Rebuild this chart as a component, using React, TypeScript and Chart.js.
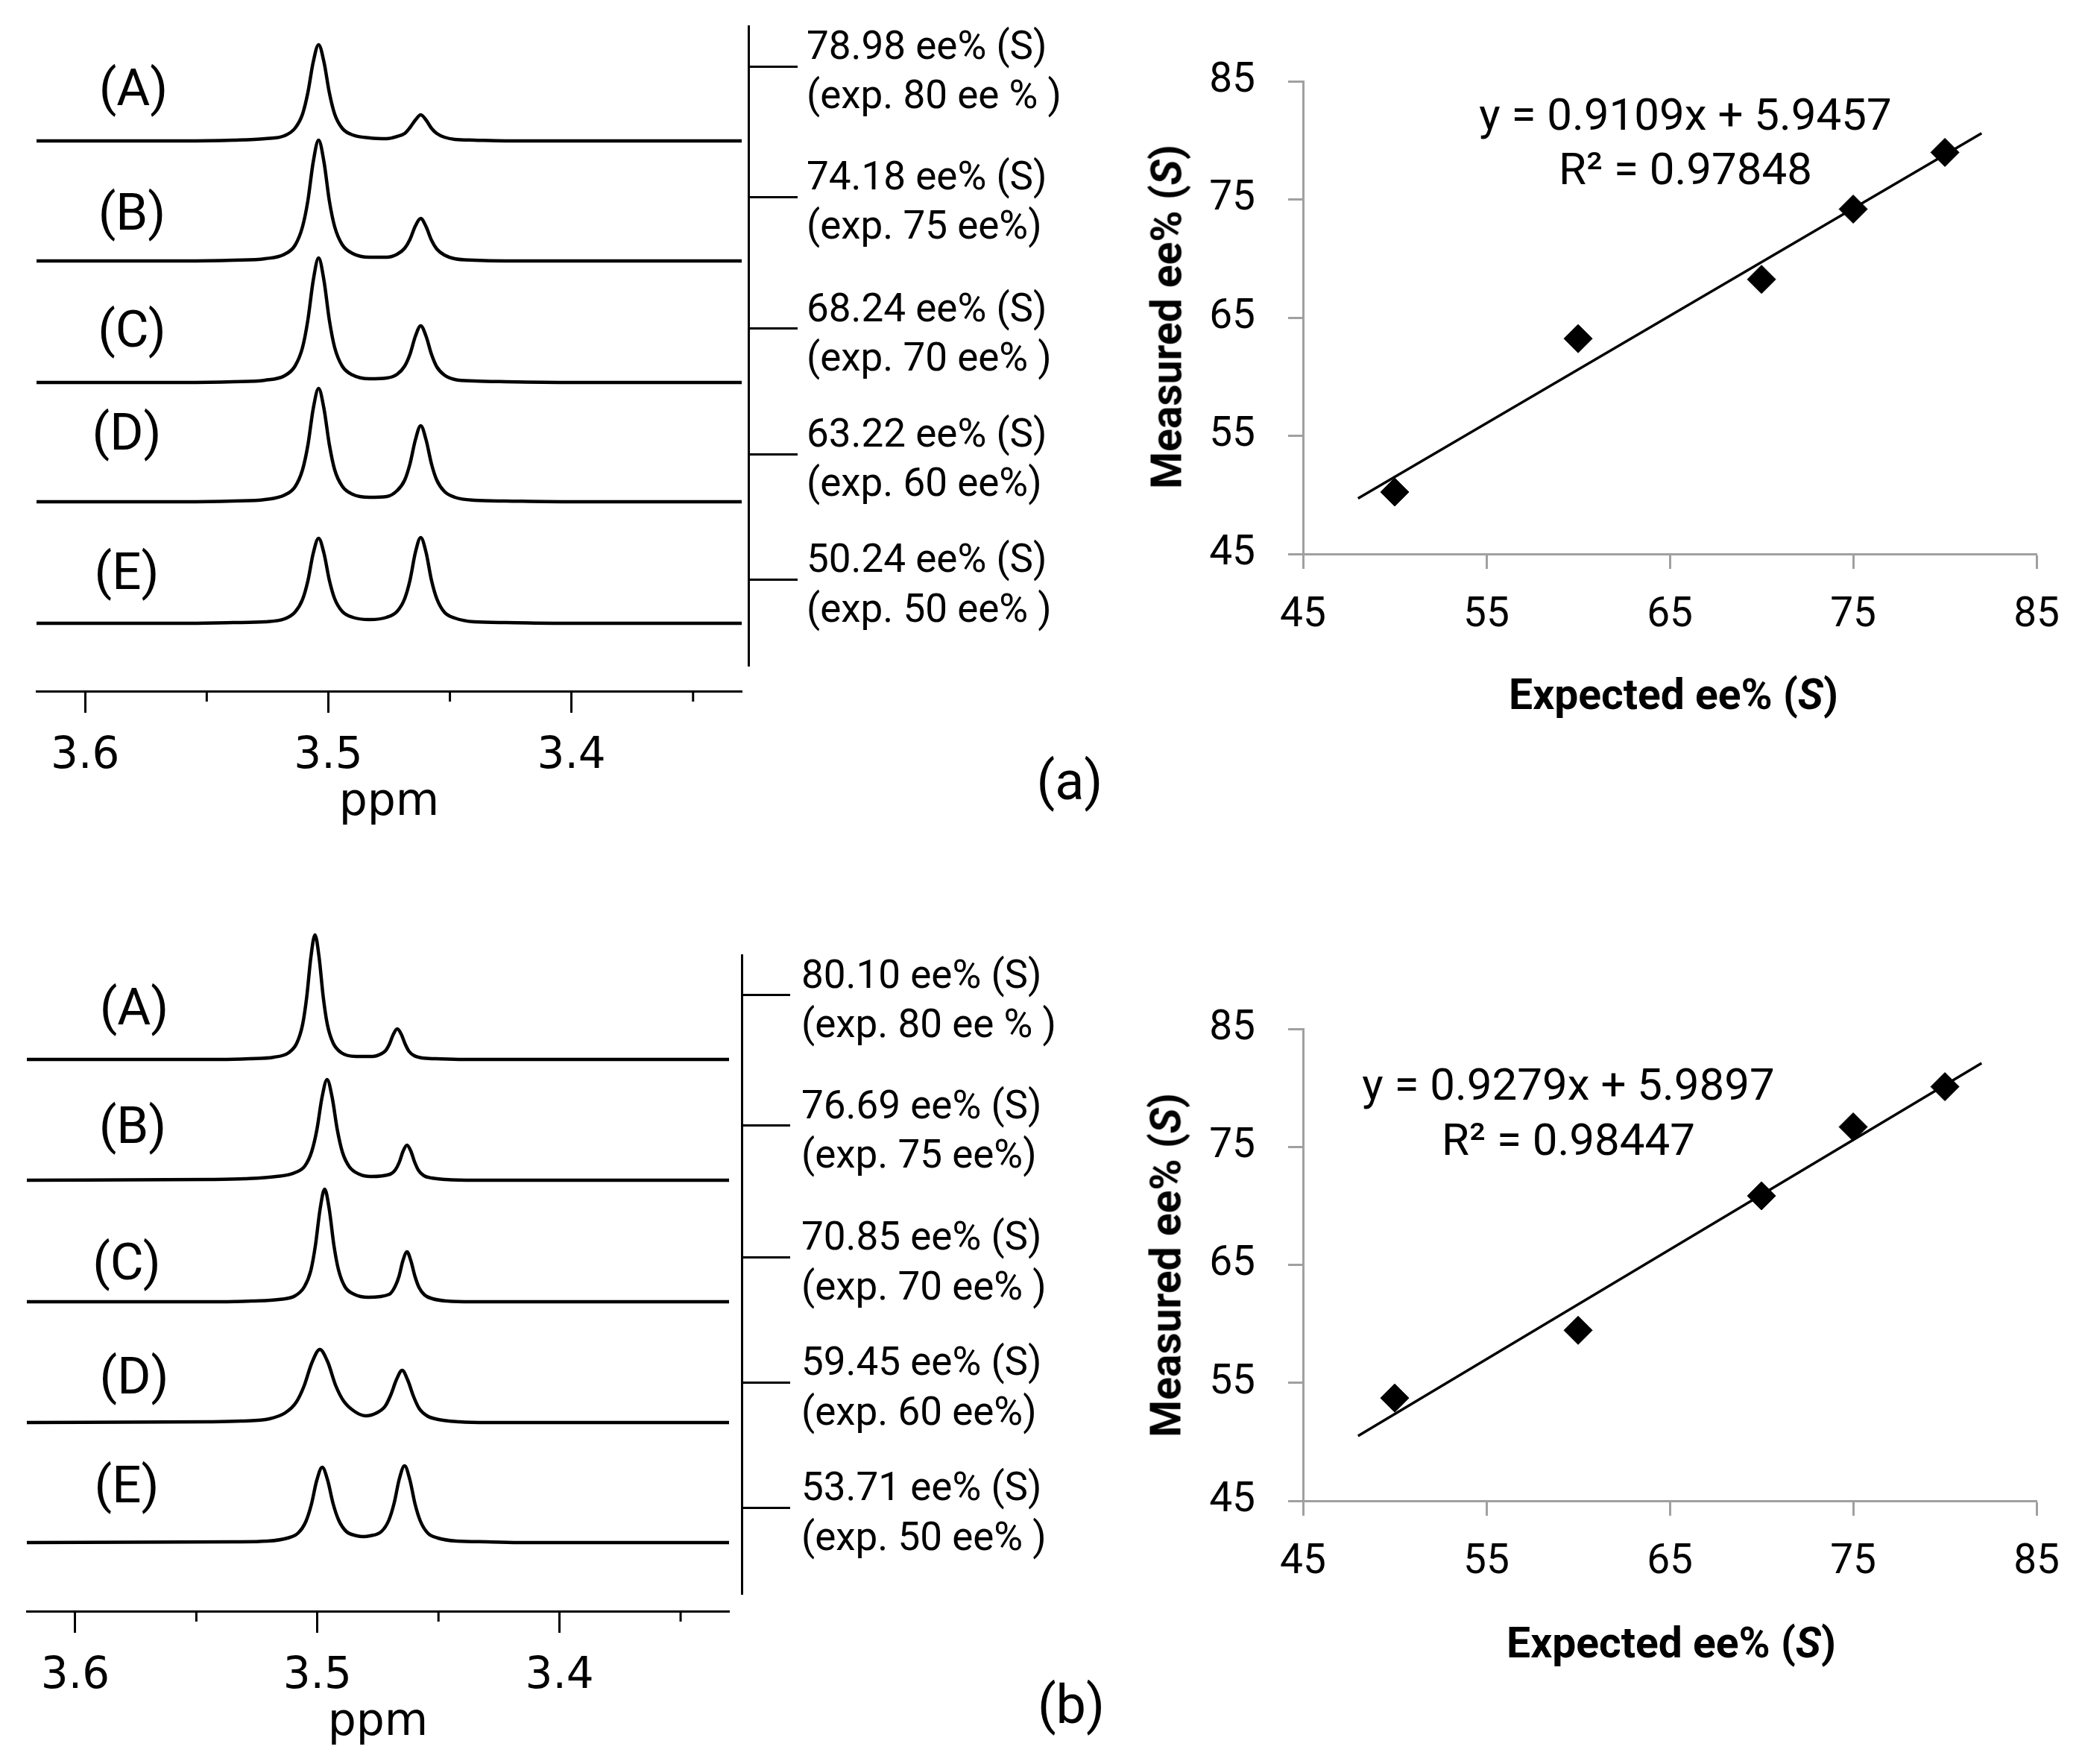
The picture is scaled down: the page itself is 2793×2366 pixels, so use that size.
import React, { useEffect, useRef } from 'react';
import { Chart, registerables } from 'chart.js';

Chart.register(...registerables);

const TEXT_FONT = 'Roboto, "Noto Sans", sans-serif';
const AXIS_FONT = '"DejaVu Sans", Verdana, sans-serif';
const GRAY = '#a0a0a0';

type Pt = [number, number];

// ---- NMR spectra, panel (a): one shared shift grid (ppm), intensities
const ppmGridA = [3.62, 3.56, 3.539, 3.526, 3.518, 3.5137, 3.5106, 3.5084, 3.5062, 3.504, 3.5018, 3.4996, 3.4974, 3.4943, 3.49, 3.483, 3.476, 3.4717, 3.4686, 3.4664, 3.4642, 3.462, 3.4598, 3.4576, 3.4554, 3.4523, 3.448, 3.44, 3.427, 3.4, 3.33];
const intA_A = [0, 0, 1, 3, 7, 17, 36, 65, 106, 129, 106, 65, 36, 17, 8, 4, 3, 6, 10, 18, 28, 35, 28, 17, 10, 5, 2, 1, 0, 0, 0];
const intA_B = [0, 0, 1, 3, 9, 21, 46, 81, 133, 162, 133, 81, 46, 22, 10, 5, 5, 9, 17, 29, 47, 57, 46, 28, 16, 8, 3, 1, 0, 0, 0];
const intA_C = [0, 0, 1, 3, 9, 22, 47, 84, 137, 167, 137, 84, 47, 22, 10, 5, 6, 11, 22, 38, 62, 76, 62, 38, 21, 10, 4, 2, 1, 0, 0];
const intA_D = [0, 0, 1, 3, 9, 20, 43, 76, 125, 152, 125, 77, 43, 21, 10, 6, 7, 15, 29, 51, 83, 102, 83, 51, 29, 14, 6, 2, 1, 0, 0];
const intA_E = [0, 0, 1, 2, 6, 15, 32, 57, 94, 114, 94, 58, 33, 16, 8, 5, 8, 16, 33, 58, 95, 115, 95, 58, 33, 15, 7, 2, 1, 0, 0];

// ---- NMR spectra, panel (b): [ppm, intensity] per trace
const specB_A: Pt[] = [[3.62, 0], [3.54, 0], [3.528, 1], [3.518, 3], [3.5119, 9], [3.5085, 22], [3.5061, 47], [3.5044, 84], [3.5027, 137], [3.501, 167], [3.4993, 137], [3.4976, 84], [3.4959, 47], [3.4935, 22], [3.4901, 9], [3.484, 4], [3.4772, 4], [3.474, 7], [3.4718, 12], [3.4702, 21], [3.4686, 34], [3.467, 41], [3.4654, 34], [3.4638, 21], [3.4622, 11], [3.46, 5], [3.4568, 2], [3.451, 1], [3.44, 0], [3.33, 0]];
const specB_B: Pt[] = [[3.62, 0], [3.545, 1], [3.53, 2], [3.517, 5], [3.5094, 10], [3.5052, 19], [3.5023, 39], [3.5002, 68], [3.4981, 111], [3.496, 135], [3.4939, 111], [3.4918, 68], [3.4897, 38], [3.4868, 18], [3.4826, 8], [3.478, 5], [3.47, 8], [3.4678, 14], [3.4662, 24], [3.4646, 39], [3.463, 47], [3.4614, 39], [3.4598, 24], [3.4582, 13], [3.456, 6], [3.4528, 3], [3.447, 1], [3.435, 0], [3.33, 0]];
const specB_C: Pt[] = [[3.62, 0], [3.54, 0], [3.527, 1], [3.516, 3], [3.5092, 8], [3.5054, 20], [3.5027, 42], [3.5008, 76], [3.4989, 124], [3.497, 151], [3.4951, 124], [3.4932, 76], [3.4913, 43], [3.4886, 20], [3.4848, 10], [3.479, 6], [3.4703, 10], [3.468, 20], [3.4663, 34], [3.4647, 55], [3.463, 67], [3.4614, 55], [3.4597, 34], [3.458, 19], [3.4557, 9], [3.4524, 4], [3.4465, 1], [3.436, 0], [3.33, 0]];
const specB_D: Pt[] = [[3.62, 0], [3.545, 1], [3.5315, 2], [3.5198, 5], [3.5133, 13], [3.5088, 27], [3.5055, 49], [3.5023, 80], [3.499, 98], [3.4957, 81], [3.4925, 50], [3.4892, 29], [3.4847, 15], [3.48, 9], [3.4755, 13], [3.472, 22], [3.4697, 37], [3.4673, 58], [3.465, 70], [3.4627, 57], [3.4603, 35], [3.458, 19], [3.4547, 9], [3.45, 4], [3.4415, 1], [3.43, 0], [3.33, 0]];
const specB_E: Pt[] = [[3.62, 0], [3.534, 1], [3.5205, 2], [3.5124, 6], [3.5079, 13], [3.5048, 28], [3.5025, 51], [3.5003, 83], [3.498, 101], [3.4958, 84], [3.4935, 52], [3.4912, 30], [3.4881, 15], [3.4836, 9], [3.481, 8], [3.4784, 9], [3.4735, 15], [3.4705, 30], [3.4683, 53], [3.4662, 85], [3.464, 103], [3.4618, 84], [3.4597, 52], [3.4575, 29], [3.4545, 13], [3.4502, 6], [3.4425, 2], [3.43, 1], [3.415, 0], [3.33, 0]];

const ppmMajorTicks = [3.6, 3.5, 3.4];
const ppmMinorTicks = [3.55, 3.45, 3.35];

const traceNames = ['(A)', '(B)', '(C)', '(D)', '(E)'];
const measuredTextA = ['78.98 ee% (S)', '74.18 ee% (S)', '68.24 ee% (S)', '63.22 ee% (S)', '50.24 ee% (S)'];
const measuredTextB = ['80.10 ee% (S)', '76.69 ee% (S)', '70.85 ee% (S)', '59.45 ee% (S)', '53.71 ee% (S)'];
const expectedText = ['(exp. 80 ee % )', '(exp. 75 ee%)', '(exp. 70 ee% )', '(exp. 60 ee%)', '(exp. 50 ee% )'];

// ---- calibration plots
const expectedEe = [50, 60, 70, 75, 80];
const measuredEeA = [50.24, 63.22, 68.24, 74.18, 78.98];
const measuredEeB = [53.71, 59.45, 70.85, 76.69, 80.1];
const trendA: Pt[] = [[48, 49.7], [82, 80.6]];
const trendB: Pt[] = [[48, 50.5], [82, 82.1]];
const eeTicks = [45, 55, 65, 75, 85];

// where the label ticks sit, as a fraction of the plot height (layout only)
const labelTickFrac = [0.063, 0.267, 0.473, 0.669, 0.865];

const minorTicksPlugin = {
  id: 'minorTicks',
  afterDraw(chart: any, _args: any, opts: any) {
    const s = chart.scales.x;
    if (!s || !opts || !opts.values) return;
    const ctx = chart.ctx;
    ctx.save();
    ctx.strokeStyle = '#000';
    ctx.lineWidth = 3;
    opts.values.forEach((v: number) => {
      const px = s.getPixelForValue(v);
      ctx.beginPath();
      ctx.moveTo(px, s.top);
      ctx.lineTo(px, s.top + opts.length);
      ctx.stroke();
    });
    ctx.restore();
  },
};

interface SpectrumProps {
  top: number;
  width: number;
  height: number;
  traces: Pt[][];
  baselines: number[];
  area: { left: number; top: number; right: number; bottom: number };
  borderX: number;
  axisY: number;
  measured: string[];
  labelTick: number;
  labelPad: number;
}

const SpectrumPanel: React.FC<SpectrumProps> = (p) => {
  const canvasRef = useRef<HTMLCanvasElement | null>(null);

  useEffect(() => {
    const ctx = canvasRef.current?.getContext('2d');
    if (!ctx) return;
    const xAxisHeight = 200;
    const yMax = p.area.bottom - p.area.top;

    const chart = new Chart(ctx, {
      type: 'line',
      data: {
        datasets: p.traces.map((t, i) => ({
          data: t.map(([x, y]) => ({ x, y: y + p.baselines[i] })),
          xAxisID: 'x',
          yAxisID: 'y',
          borderColor: '#000',
          borderWidth: 4.5,
          pointRadius: 0,
          fill: false,
          cubicInterpolationMode: 'monotone',
          clip: false,
        })),
      },
      options: {
        animation: false,
        responsive: false,
        layout: {
          padding: { left: p.area.left, top: p.area.top, right: 0, bottom: p.height - p.axisY - xAxisHeight },
        },
        plugins: {
          legend: { display: false },
          tooltip: { enabled: false },
          minorTicks: { values: ppmMinorTicks, length: 14 },
        } as any,
        scales: {
          x: {
            type: 'linear',
            reverse: true,
            min: 3.33,
            max: 3.62,
            weight: 1,
            afterBuildTicks: (s: any) => {
              s.ticks = ppmMajorTicks.map((v) => ({ value: v }));
            },
            afterFit: (s: any) => {
              s.height = xAxisHeight;
            },
            ticks: {
              callback: (v: any) => Number(v).toFixed(1),
              color: '#000',
              font: { family: AXIS_FONT, size: 58 },
              padding: 24,
              maxRotation: 0,
              autoSkip: false,
            },
            grid: { drawOnChartArea: false, tickLength: 29, tickWidth: 3, tickColor: '#000' },
            border: { color: '#000', width: 3 },
            title: {
              display: true,
              text: 'ppm',
              color: '#000',
              font: { family: AXIS_FONT, size: 60 },
              padding: { top: 0, bottom: 14 },
            },
          },
          xgap: {
            type: 'linear',
            axis: 'x',
            position: 'bottom',
            weight: 0,
            ticks: { display: false },
            grid: { display: false },
            border: { display: false },
            afterFit: (s: any) => {
              s.height = p.axisY - p.area.bottom;
            },
          },
          y: { display: false, min: 0, max: yMax },
          ygap: {
            type: 'linear',
            axis: 'y',
            position: 'right',
            weight: 0,
            ticks: { display: false },
            grid: { display: false },
            border: { display: false },
            afterFit: (s: any) => {
              s.width = p.borderX - p.area.right;
            },
          },
          ylab: {
            type: 'linear',
            axis: 'y',
            position: 'right',
            weight: 1,
            reverse: true,
            min: 0,
            max: 1,
            afterBuildTicks: (s: any) => {
              s.ticks = labelTickFrac.map((v) => ({ value: v }));
            },
            afterFit: (s: any) => {
              s.width = p.width - p.borderX;
              // the two-line labels may stick out past the plot; do not let them push it
              s.paddingTop = 0;
              s.paddingBottom = 0;
            },
            ticks: {
              callback: (_v: any, i: number) => [p.measured[i], expectedText[i]],
              autoSkip: false,
              color: '#000',
              font: { family: TEXT_FONT, size: 53, lineHeight: 1.25 },
              padding: p.labelPad,
              labelOffset: 10,
              crossAlign: 'near',
            },
            grid: { drawOnChartArea: false, tickLength: p.labelTick, tickWidth: 3, tickColor: '#000' },
            border: { color: '#000', width: 3 },
          },
        } as any,
      },
      plugins: [minorTicksPlugin],
    });

    return () => {
      chart.destroy();
    };
  }, [p]);

  return (
    <div style={{ position: 'absolute', left: 0, top: p.top, width: p.width, height: p.height }}>
      <canvas ref={canvasRef} width={p.width} height={p.height}></canvas>
    </div>
  );
};

interface ScatterProps {
  top: number;
  measured: number[];
  trend: Pt[];
  areaTop: number;
  areaBottom: number;
}

const ScatterPanel: React.FC<ScatterProps> = (p) => {
  const canvasRef = useRef<HTMLCanvasElement | null>(null);
  const width = 1293;
  const height = 1000;

  useEffect(() => {
    const ctx = canvasRef.current?.getContext('2d');
    if (!ctx) return;
    const xAxisHeight = 150;

    const axisStyle = {
      grid: { drawOnChartArea: false, tickLength: 20, tickWidth: 3, tickColor: GRAY },
      border: { color: GRAY, width: 3 },
    };

    const chart = new Chart(ctx, {
      type: 'scatter',
      data: {
        datasets: [
          {
            type: 'line',
            data: p.trend.map(([x, y]) => ({ x, y })),
            borderColor: '#000',
            borderWidth: 3.5,
            pointRadius: 0,
            order: 2,
          } as any,
          {
            type: 'scatter',
            data: expectedEe.map((x, i) => ({ x, y: p.measured[i] })),
            pointStyle: 'rectRot',
            pointRadius: 19,
            backgroundColor: '#000',
            borderColor: '#000',
            borderWidth: 1,
            order: 1,
          },
        ],
      },
      options: {
        animation: false,
        responsive: false,
        layout: {
          padding: { left: 0, top: p.areaTop, right: 51, bottom: height - p.areaBottom - xAxisHeight },
        },
        plugins: { legend: { display: false }, tooltip: { enabled: false } },
        scales: {
          x: {
            type: 'linear',
            min: 45,
            max: 85,
            afterBuildTicks: (s: any) => {
              s.ticks = eeTicks.map((v) => ({ value: v }));
            },
            afterFit: (s: any) => {
              s.height = xAxisHeight;
            },
            ticks: { color: '#000', font: { family: TEXT_FONT, size: 55 }, padding: 30, maxRotation: 0 },
            ...axisStyle,
          },
          y: {
            type: 'linear',
            min: 45,
            max: 85,
            afterBuildTicks: (s: any) => {
              s.ticks = eeTicks.map((v) => ({ value: v }));
            },
            afterFit: (s: any) => {
              s.width = 248;
            },
            ticks: { color: '#000', font: { family: TEXT_FONT, size: 55 }, padding: 44 },
            ...axisStyle,
          },
        } as any,
      },
    });

    return () => {
      chart.destroy();
    };
  }, [p]);

  return (
    <div style={{ position: 'absolute', left: 1500, top: p.top, width, height }}>
      <canvas ref={canvasRef} width={width} height={height}></canvas>
    </div>
  );
};

const Label: React.FC<{ x: number; y: number; size: number; bold?: boolean; rotate?: boolean; family?: string; children: React.ReactNode }> = ({
  x,
  y,
  size,
  bold,
  rotate,
  family,
  children,
}) => (
  <div
    style={{
      position: 'absolute',
      left: x,
      top: y,
      transform: `translate(-50%, -50%)${rotate ? ' rotate(-90deg)' : ''}`,
      fontFamily: family || TEXT_FONT,
      fontSize: size,
      fontWeight: bold ? 700 : 400,
      lineHeight: 1,
      whiteSpace: 'nowrap',
      color: '#000',
    }}
  >
    {children}
  </div>
);

const tracesA: Pt[][] = [intA_A, intA_B, intA_C, intA_D, intA_E].map((ints) => ppmGridA.map((x, i) => [x, ints[i]] as Pt));
const tracesB: Pt[][] = [specB_A, specB_B, specB_C, specB_D, specB_E];

const specPropsA: SpectrumProps = {
  top: 0,
  width: 1480,
  height: 1150,
  traces: tracesA,
  baselines: [704, 543, 380, 220, 57],
  area: { left: 49, top: 35, right: 995, bottom: 893 },
  borderX: 1004,
  axisY: 927,
  measured: measuredTextA,
  labelTick: 66,
  labelPad: 12,
};

const specPropsB: SpectrumProps = {
  top: 1166,
  width: 1480,
  height: 1200,
  traces: tracesB,
  baselines: [717, 555, 392, 230, 69],
  area: { left: 36, top: 115, right: 978, bottom: 972 },
  borderX: 995,
  axisY: 995,
  measured: measuredTextB,
  labelTick: 65,
  labelPad: 15,
};

const scatterPropsA: ScatterProps = { top: 0, measured: measuredEeA, trend: trendA, areaTop: 109, areaBottom: 743 };
const scatterPropsB: ScatterProps = { top: 1166, measured: measuredEeB, trend: trendB, areaTop: 214, areaBottom: 847 };

const labelPosA: Pt[] = [[179, 117], [177, 284], [177, 441], [170, 579], [170, 766]];
const labelPosB: Pt[] = [[180, 1350], [178, 1509], [170, 1692], [180, 1845], [170, 1991]];

const App: React.FC = () => (
  <div style={{ position: 'absolute', left: 0, top: 0, width: 2793, height: 2366, background: '#fff', overflow: 'hidden' }}>
    <SpectrumPanel {...specPropsA} />
    <SpectrumPanel {...specPropsB} />
    <ScatterPanel {...scatterPropsA} />
    <ScatterPanel {...scatterPropsB} />

    {traceNames.map((t, i) => (
      <Label key={'a' + t} x={labelPosA[i][0]} y={labelPosA[i][1]} size={69}>
        {t}
      </Label>
    ))}
    {traceNames.map((t, i) => (
      <Label key={'b' + t} x={labelPosB[i][0]} y={labelPosB[i][1]} size={69}>
        {t}
      </Label>
    ))}

    <Label x={1435} y={1048} size={72}>(a)</Label>
    <Label x={1437} y={2287} size={72}>(b)</Label>

    <Label x={2261} y={154} size={60}>y = 0.9109x + 5.9457</Label>
    <Label x={2261} y={227} size={60}>R² = 0.97848</Label>
    <Label x={1565} y={425} size={57} bold rotate>
      Measured ee% (<i>S</i>)
    </Label>
    <Label x={2245} y={931} size={57} bold>
      Expected ee% (<i>S</i>)
    </Label>

    <Label x={2104} y={1455} size={60}>y = 0.9279x + 5.9897</Label>
    <Label x={2104} y={1529} size={60}>R² = 0.98447</Label>
    <Label x={1564} y={1697} size={57} bold rotate>
      Measured ee% (<i>S</i>)
    </Label>
    <Label x={2242} y={2203} size={57} bold>
      Expected ee% (<i>S</i>)
    </Label>
  </div>
);

export default App;
